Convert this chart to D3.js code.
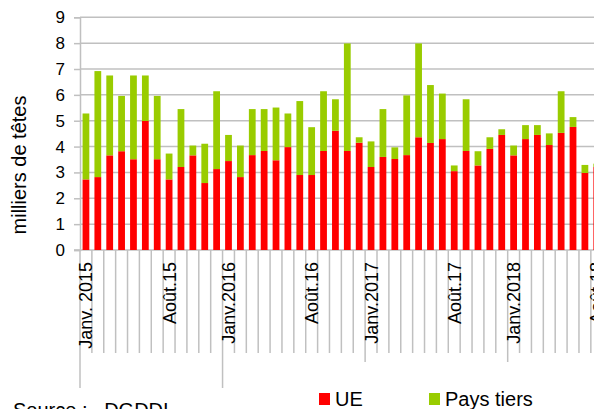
<!DOCTYPE html>
<html>
<head>
<meta charset="utf-8">
<script src="https://cdn.jsdelivr.net/npm/d3@7"></script>
<style>
  html, body { margin: 0; padding: 0; background: #fff; }
  svg { display: block; font-family: "Liberation Sans", Arial, sans-serif; }
</style>
</head>
<body>
<div id="chart"></div>
<script>
// monthly imports, thousands of head, Jan 2015 .. Aug 2018
const months = [
  '2015-01','2015-02','2015-03','2015-04','2015-05','2015-06','2015-07','2015-08','2015-09','2015-10','2015-11','2015-12',
  '2016-01','2016-02','2016-03','2016-04','2016-05','2016-06','2016-07','2016-08','2016-09','2016-10','2016-11','2016-12',
  '2017-01','2017-02','2017-03','2017-04','2017-05','2017-06','2017-07','2017-08','2017-09','2017-10','2017-11','2017-12',
  '2018-01','2018-02','2018-03','2018-04','2018-05','2018-06','2018-07','2018-08'
];

const ue = [
  2.73, 2.82, 3.66, 3.82, 3.51, 4.99, 3.51, 2.73, 3.21, 3.66, 2.59, 3.13,
  3.44, 2.82, 3.67, 3.83, 3.47, 3.98, 2.90, 2.90, 3.83, 4.61, 3.83, 4.15,
  3.21, 3.60, 3.52, 3.67, 4.36, 4.14, 4.29, 3.05, 3.83, 3.27, 3.91, 4.45,
  3.66, 4.29, 4.45, 4.06, 4.53, 4.76, 2.98, 3.21
];

const paysTiers = [
  2.55, 4.10, 3.09, 2.14, 3.24, 1.76, 2.45, 1.00, 2.24, 0.38, 1.52, 3.01,
  1.01, 1.22, 1.78, 1.62, 2.04, 1.30, 2.86, 1.85, 2.31, 1.22, 4.16, 0.21,
  0.99, 1.85, 0.45, 2.31, 3.63, 2.24, 1.76, 0.22, 2.00, 0.55, 0.45, 0.22,
  0.38, 0.54, 0.38, 0.45, 1.61, 0.38, 0.31, 0.13
];

// only some months carry a label
const tickLabels = {
  '2015-01': 'Janv. 2015', '2015-08': 'Août.15',
  '2016-01': 'Janv.2016',  '2016-08': 'Août.16',
  '2017-01': 'Janv.2017',  '2017-08': 'Août.17',
  '2018-01': 'Janv.2018',  '2018-08': 'Août.18'
};

const yTicks = [0, 1, 2, 3, 4, 5, 6, 7, 8, 9];

const seriesKeys = ['UE', 'Pays tiers'];
const colors = { 'UE': '#ff0000', 'Pays tiers': '#99cc00' };
const GRID = '#c0c0c0';

const W = 594, H = 409;
const plotLeft = 80, plotBottom = 250, plotTop = 17.3;
const step = 11.88;

const rows = months.map((m, i) => ({ month: m, 'UE': ue[i], 'Pays tiers': paysTiers[i] }));

const svg = d3.select('#chart')
  .append('svg')
  .attr('width', W)
  .attr('height', H);

const x = d3.scaleBand()
  .domain(months)
  .range([plotLeft, plotLeft + step * months.length])
  .paddingInner(0.43)
  .paddingOuter(0.215);

const y = d3.scaleLinear()
  .domain([0, 9])
  .range([plotBottom, plotTop]);

// Horizontal gridlines
svg.append('g')
  .selectAll('line')
  .data(yTicks.slice(1))
  .enter()
  .append('line')
  .attr('x1', plotLeft)
  .attr('x2', W + 20)
  .attr('y1', d => y(d))
  .attr('y2', d => y(d))
  .attr('stroke', GRID)
  .attr('stroke-width', 1.5);

// Y axis
const yAxis = svg.append('g')
  .attr('transform', `translate(${plotLeft},0)`)
  .call(d3.axisLeft(y).tickValues(yTicks).tickSize(6).tickPadding(9));
yAxis.select('.domain').attr('stroke', GRID).attr('stroke-width', 1.5);
yAxis.selectAll('.tick line').attr('stroke', GRID).attr('stroke-width', 1.5);
yAxis.selectAll('.tick text')
  .attr('fill', '#000')
  .style('font-size', '17px')
  .style('font-family', '"Liberation Sans", Arial, sans-serif');

// Category separators below the baseline
const boundaries = d3.range(months.length + 1);
svg.append('g')
  .selectAll('line')
  .data(boundaries)
  .enter()
  .append('line')
  .attr('x1', i => plotLeft + i * step)
  .attr('x2', i => plotLeft + i * step)
  .attr('y1', plotBottom)
  .attr('y2', i => (i === 0 || i === 12) ? 388 : (i === 24 || i === 36) ? 362 : 353)
  .attr('stroke', GRID)
  .attr('stroke-width', 1.5);

// Baseline
svg.append('line')
  .attr('x1', plotLeft - 6)
  .attr('x2', W + 20)
  .attr('y1', plotBottom)
  .attr('y2', plotBottom)
  .attr('stroke', GRID)
  .attr('stroke-width', 1.5);

// Stacked bars
const stacked = d3.stack().keys(seriesKeys)(rows);

svg.append('g')
  .selectAll('g')
  .data(stacked)
  .enter()
  .append('g')
  .attr('fill', d => colors[d.key])
  .selectAll('rect')
  .data(d => d)
  .enter()
  .append('rect')
  .attr('x', d => x(d.data.month))
  .attr('width', x.bandwidth())
  .attr('y', d => y(d[1]))
  .attr('height', d => y(d[0]) - y(d[1]));

// Month labels (rotated)
svg.append('g')
  .selectAll('text')
  .data(months.filter(m => tickLabels[m]))
  .enter()
  .append('text')
  .attr('transform', m => `translate(${x(m) + x.bandwidth() / 2},262) rotate(-90)`)
  .attr('text-anchor', 'end')
  .attr('dy', '0.36em')
  .attr('font-size', '18px')
  .attr('fill', '#000')
  .text(m => tickLabels[m]);

// Y axis title
svg.append('text')
  .attr('transform', 'translate(26,165) rotate(-90)')
  .attr('text-anchor', 'middle')
  .attr('font-size', '20px')
  .attr('fill', '#000')
  .text('milliers de têtes');

// Legend
const legend = svg.append('g');
const legendItems = [
  { key: 'UE', x: 319 },
  { key: 'Pays tiers', x: 429 }
];
legendItems.forEach(item => {
  legend.append('rect')
    .attr('x', item.x)
    .attr('y', 393)
    .attr('width', 11)
    .attr('height', 12)
    .attr('fill', colors[item.key]);
  legend.append('text')
    .attr('x', item.x + 16)
    .attr('y', 406)
    .attr('font-size', '20px')
    .attr('fill', '#000')
    .text(item.key);
});

// Source (cut by the frame)
svg.append('text')
  .attr('x', 13)
  .attr('y', 417)
  .attr('font-size', '20px')
  .attr('fill', '#000')
  .attr('xml:space', 'preserve')
  .text('Source :   DGDDI');
</script>
</body>
</html>
